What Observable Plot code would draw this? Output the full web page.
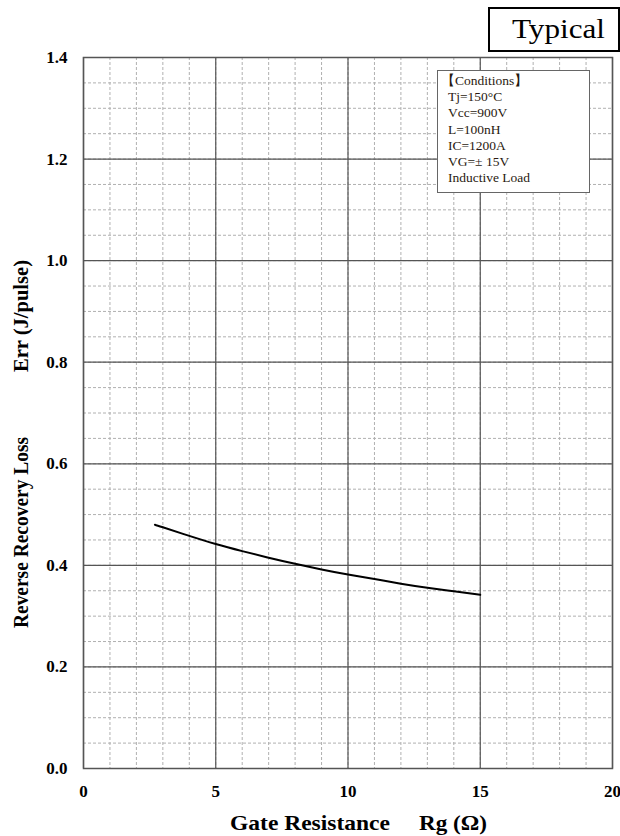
<!DOCTYPE html>
<html><head><meta charset="utf-8">
<script src="https://cdn.jsdelivr.net/npm/d3@7"></script>
<script src="https://cdn.jsdelivr.net/npm/@observablehq/plot@0.6"></script>
<style>
body{margin:0;background:#fff;}
#wrap{position:relative;width:620px;height:836px;font-family:"Liberation Serif","Times New Roman",serif;}
#chart{position:absolute;left:0;top:0;}
#over{position:absolute;left:0;top:0;pointer-events:none;}
</style></head><body>
<div id="wrap"><div id="chart"></div><svg id="over" width="620" height="836"></svg></div>
<script>
const rg = [2.7, 3, 4, 5, 6, 7, 8, 9, 10, 11, 12, 13, 14, 15];
const err = [0.480, 0.475, 0.458, 0.442, 0.428, 0.415, 0.403, 0.392, 0.382, 0.373, 0.364, 0.356, 0.349, 0.342];
const xTicks = [0, 5, 10, 15, 20];
const yTicks = [0, 0.2, 0.4, 0.6, 0.8, 1.0, 1.2, 1.4];
const conditions = ["【Conditions】", "Tj=150°C", "Vcc=900V", "L=100nH", "IC=1200A", "VG=± 15V", "Inductive Load"];
const title = "Typical";
const xLabel = ["Gate Resistance", "Rg (Ω)"];
const yLabel = ["Reverse Recovery Loss", "Err (J/pulse)"];

const data = rg.map((x, i) => ({x, y: err[i]}));
const minorX = d3.range(0, 21, 1);
const minorY = d3.range(0, 1.401, 0.05).map(v => +v.toFixed(2));

const chart = Plot.plot({
  width: 620, height: 836,
  marginLeft: 83, marginRight: 8, marginTop: 57, marginBottom: 68,
  style: {fontFamily: '"Liberation Serif", serif', fontSize: "17px", fontWeight: "bold", background: "#fff"},
  x: {domain: [0, 20], label: null},
  y: {domain: [0, 1.4], label: null},
  marks: [
    Plot.ruleX(minorX, {stroke: "#b0b0b0", strokeDasharray: "3,2", strokeWidth: 1}),
    Plot.ruleY(minorY, {stroke: "#b0b0b0", strokeDasharray: "3,2", strokeWidth: 1}),
    Plot.ruleX(xTicks, {stroke: "#555", strokeWidth: 1.2}),
    Plot.ruleY(yTicks, {stroke: "#555", strokeWidth: 1.2}),
    Plot.frame({stroke: "#555", strokeWidth: 1.5}),
    Plot.axisX({ticks: xTicks, tickSize: 0, tickPadding: 16, fontSize: 17, fontWeight: "bold", label: null}),
    Plot.axisY({ticks: yTicks, tickSize: 0, tickPadding: 16, tickFormat: d => d.toFixed(1), fontSize: 17, fontWeight: "bold", label: null}),
    Plot.line(data, {x: "x", y: "y", curve: "natural", stroke: "#000", strokeWidth: 2})
  ]
});
document.getElementById("chart").appendChild(chart);

const over = d3.select("#over").style("font-family", '"Liberation Serif", serif');
// Typical box
over.append("rect").attr("x", 489).attr("y", 8).attr("width", 130).attr("height", 43)
  .attr("fill", "#fff").attr("stroke", "#000").attr("stroke-width", 2);
over.append("text").attr("x", 512).attr("y", 38).attr("font-size", 28)
  .attr("textLength", 93).attr("lengthAdjust", "spacingAndGlyphs").text(title);
// Conditions box
over.append("rect").attr("x", 437.5).attr("y", 70.5).attr("width", 152).attr("height", 122)
  .attr("fill", "#fff").attr("stroke", "#666").attr("stroke-width", 1);
over.append("g").selectAll("text").data(conditions).join("text")
  .attr("x", (d, i) => i === 0 ? 441 : 448)
  .attr("y", (d, i) => 85 + i * 16.2)
  .attr("font-size", 13.5).attr("fill", "#2a1a10")
  .text(d => d);
// X title
const xt = over.append("g").attr("font-size", 21).attr("font-weight", "bold");
xt.append("text").attr("x", 230).attr("y", 830).attr("textLength", 160).attr("lengthAdjust", "spacingAndGlyphs").text(xLabel[0]);
xt.append("text").attr("x", 419).attr("y", 830).attr("textLength", 68).attr("lengthAdjust", "spacingAndGlyphs").text(xLabel[1]);
// Y title
const yt = over.append("g").attr("font-size", 21).attr("font-weight", "bold").attr("transform", "translate(28,0) rotate(-90)");
yt.append("text").attr("x", -628).attr("y", 0).attr("textLength", 191).attr("lengthAdjust", "spacingAndGlyphs").text(yLabel[0]);
yt.append("text").attr("x", -372).attr("y", 0).attr("textLength", 112).attr("lengthAdjust", "spacingAndGlyphs").text(yLabel[1]);
</script>
</body></html>
